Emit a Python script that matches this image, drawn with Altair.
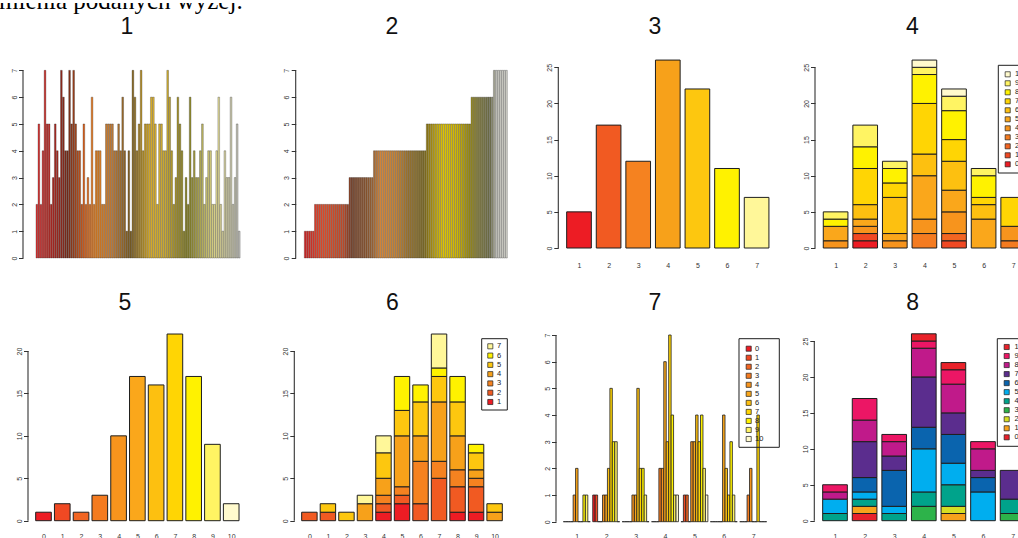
import altair as alt
import pandas as pd

# ------------------------------------------------------------------ data
# panel 1: the 100 observations of X in their original order
x_seq = [2, 5, 2, 4, 7, 5, 5, 2, 3, 5, 4, 3, 7, 6, 4, 4, 7, 5, 7, 5,
         4, 4, 2, 5, 2, 3, 2, 6, 2, 4, 4, 4, 2, 2, 5, 5, 5, 5, 4, 4,
         5, 4, 6, 4, 1, 4, 1, 7, 6, 4, 5, 7, 4, 5, 5, 5, 6, 6, 5, 2,
         5, 5, 4, 4, 7, 6, 4, 2, 3, 6, 5, 4, 1, 3, 2, 6, 3, 4, 3, 3,
         4, 5, 2, 3, 4, 4, 2, 2, 4, 6, 2, 1, 4, 3, 3, 6, 2, 3, 5, 1]
x_levels = [1, 2, 3, 4, 5, 6, 7]
y_levels = [0, 1, 2, 3, 4, 5, 6, 7, 8, 9, 10]
x_totals = [5, 17, 12, 26, 22, 11, 7]
y_totals = [1, 2, 1, 3, 10, 17, 16, 22, 17, 9, 2]
# counts of Y = 0..10 within each level of X
x1_counts = [0, 0, 0, 0, 1, 2, 0, 0, 1, 1, 0]
x2_counts = [1, 1, 0, 0, 1, 1, 2, 5, 3, 3, 0]
x3_counts = [0, 0, 0, 0, 1, 1, 5, 2, 2, 1, 0]
x4_counts = [0, 0, 0, 2, 2, 6, 3, 7, 4, 1, 1]
x5_counts = [0, 1, 1, 0, 3, 3, 4, 3, 4, 2, 1]
x6_counts = [0, 0, 0, 0, 0, 4, 2, 1, 3, 1, 0]
x7_counts = [0, 0, 0, 1, 2, 0, 0, 4, 0, 0, 0]
panel_titles = ["1", "2", "3", "4", "5", "6", "7", "8"]
header_text = "mienia podanych wyżej."
y_ticks_7 = [0, 1, 2, 3, 4, 5, 6, 7]
y_ticks_25 = [0, 5, 10, 15, 20, 25]
y_ticks_20 = [0, 5, 10, 15, 20]

# ------------------------------------------------------------------ styles
SANS = "Liberation Sans"
SERIF = "Liberation Serif"
AX = "#333333"
EDGE = "#1e1e1e"
grad1_idx = [1, 8, 16, 24, 30, 38, 47, 56, 64, 74, 88, 100]
grad1_col = ["#e03030", "#c02a24", "#7a2c1a", "#e0621c", "#f08822", "#c88038", "#806020",
             "#e8b82a", "#d8b434", "#8a8420", "#e8e090", "#c4c4be"]
grad2_idx = [1, 10, 20, 24, 34, 38, 46, 52, 59, 64, 69, 76, 82, 86, 92, 95, 100]
grad2_col = ["#e42a2a", "#ee502a", "#d0502a", "#7e4024", "#aa6c38", "#e4903c",
             "#d48c38", "#a87c2c", "#86701c", "#c4a810", "#f0d400", "#e0c400",
             "#a89610", "#8c8438", "#7a7a54", "#d0d0c8", "#d8d8d0"]
heat7 = ["#ed1c24", "#f15a22", "#f58220", "#f7a11a", "#fdc70f", "#fff200", "#fff799"]
heat11 = ["#ed1c24", "#f04923", "#f26522", "#f47b20", "#f7941d", "#faa71b",
          "#fdc010", "#ffd504", "#fff200", "#fff463", "#fffacd"]
bright11 = ["#e8212b", "#f7a21c", "#d6de23", "#2db34a", "#00a38b", "#00aeef",
            "#0a64ae", "#5b2d8e", "#c01a8a", "#ec1665", "#e9222a"]

R0_H, R1_H, R2_H = 55, 270, 213
COL_W = [255, 265, 260, 238]
HALF = 0.5 / 1.2          # R barplot: width 1, space 0.2
HALF7 = 0.5 / 12          # beside=TRUE: 11 bars + 1 space per group

tables = [x1_counts, x2_counts, x3_counts, x4_counts, x5_counts, x6_counts, x7_counts]


# ------------------------------------------------------------------ helpers
def xscale(W, ref_px, ref_val, ppu):
    return alt.Scale(domain=[ref_val - ref_px / ppu, ref_val + (W - ref_px) / ppu],
                     nice=False, zero=False)


def yscale(H, zero_px, ppu):
    return alt.Scale(domain=[-(H - zero_px) / ppu, zero_px / ppu], nice=False, zero=False)


def y_axis(ticks, axis_px):
    return alt.Axis(values=ticks, offset=-axis_px, domain=False, ticks=True, tickSize=4.5,
                    tickColor=AX, tickWidth=1, labelAngle=270, labelAlign="center",
                    labelBaseline="alphabetic", labelPadding=2.5, labelFontSize=7,
                    labelFont=SANS, labelColor=AX, labelFlush=False, labelOverlap=False,
                    grid=False, title=None, format="d")


def x_axis(values, offset):
    return alt.Axis(values=values, offset=offset, domain=False, ticks=False, tickSize=0,
                    labelPadding=0, labelFontSize=7, labelFont=SANS, labelColor=AX,
                    labelBaseline="middle", labelAngle=0, labelFlush=False,
                    labelOverlap=False, grid=False, title=None, format="d")


def bars(df, xs, ys, xaxis, yaxis, color, hw, clip=False, sw=1.0, edge=EDGE):
    return alt.Chart(df).mark_rect(stroke=edge, strokeWidth=sw, clip=clip).transform_calculate(
        xl=f"datum.xc - {hw}", xr=f"datum.xc + {hw}"
    ).encode(
        x=alt.X("xl:Q", scale=xs, axis=xaxis), x2="xr:Q",
        y=alt.Y("lo:Q", scale=ys, axis=yaxis), y2="hi:Q",
        color=color,
    )


def axis_line(ys, axis_px, top):
    return alt.Chart(pd.DataFrame({"a": [0], "b": [top]})).mark_rule(
        color=AX, strokeWidth=1.1
    ).encode(x=alt.value(axis_px), y=alt.Y("a:Q", scale=ys, axis=None), y2="b:Q")


def title_mark(text, x, y):
    return alt.Chart(pd.DataFrame({"t": [text]})).mark_text(
        font=SANS, fontSize=23, color="#111111", align="center", baseline="alphabetic"
    ).encode(x=alt.value(x), y=alt.value(y), text="t:N")


def legend(labels, colors, box, sq_x, lab_x, y0, y1, clip):
    labs = [str(v) for v in labels]
    n = len(labs)
    df = pd.DataFrame({"k": list(range(n)), "lab": labs})
    ys = alt.Scale(type="point", domain=list(range(n)), range=[y0, y1], padding=0)
    boxl = alt.Chart(pd.DataFrame({"a": [0]})).mark_rect(
        fill="white", fillOpacity=0, stroke=EDGE, strokeWidth=1, clip=clip
    ).encode(x=alt.value(box[0]), x2=alt.value(box[1]), y=alt.value(box[2]), y2=alt.value(box[3]))
    sq = alt.Chart(df).mark_square(size=26, opacity=1, stroke=EDGE, strokeWidth=0.7, clip=clip).encode(
        x=alt.value(sq_x), y=alt.Y("k:O", scale=ys, axis=None),
        color=alt.Color("lab:N", scale=alt.Scale(domain=labs, range=colors), legend=None))
    tx = alt.Chart(df).mark_text(font=SANS, fontSize=7.5, color="#222222", align="left",
                                 baseline="middle", clip=clip).encode(
        x=alt.value(lab_x), y=alt.Y("k:O", scale=ys, axis=None), text="lab:N")
    return [boxl, sq, tx]


def finish(layers, W, H):
    return alt.layer(*layers).resolve_scale(y="independent", color="independent").properties(
        width=W, height=H)


# ------------------------------------------------------------------ tables
idx = list(range(1, len(x_seq) + 1))
seq_df = pd.DataFrame({"xc": idx, "idx": idx, "lo": [0] * len(x_seq), "hi": x_seq})
sorted_df = pd.DataFrame({"xc": idx, "idx": idx, "lo": [0] * len(x_seq), "hi": sorted(x_seq)})
xtot_df = pd.DataFrame({"xc": x_levels, "lo": [0] * 7, "hi": x_totals, "X": [str(v) for v in x_levels]})
ytot_df = pd.DataFrame({"xc": y_levels, "lo": [0] * 11, "hi": y_totals, "Y": [str(v) for v in y_levels]})

rows_xy = []
for xv, counts in zip(x_levels, tables):
    cum = 0
    for yv, c in zip(y_levels, counts):
        if c > 0:
            rows_xy.append({"xc": xv, "Y": str(yv), "lo": cum, "hi": cum + c})
            cum += c
stack_x_df = pd.DataFrame(rows_xy)

rows_yx = []
for j, yv in enumerate(y_levels):
    cum = 0
    for xv, counts in zip(x_levels, tables):
        c = counts[j]
        if c > 0:
            rows_yx.append({"xc": yv, "X": str(xv), "lo": cum, "hi": cum + c})
            cum += c
stack_y_df = pd.DataFrame(rows_yx)

rows_b = []
for xv, counts in zip(x_levels, tables):
    for yv, c in zip(y_levels, counts):
        rows_b.append({"xc": xv + (yv - 5) / 12, "Y": str(yv), "lo": 0, "hi": c})
beside_df = pd.DataFrame(rows_b)


def ycol11(rng):
    return alt.Color("Y:N", scale=alt.Scale(domain=[str(v) for v in y_levels], range=rng), legend=None)


xcol7 = alt.Color("X:N", scale=alt.Scale(domain=[str(v) for v in x_levels], range=heat7), legend=None)

# ------------------------------------------------------------------ panels
# 1
ys1 = yscale(R1_H, 200, 26.81)
p1 = finish([
    bars(seq_df, xscale(COL_W[0], 36.85, 1, 2.044), ys1, None, y_axis(y_ticks_7, 23),
         alt.Color("idx:Q", scale=alt.Scale(domain=grad1_idx, range=grad1_col, interpolate="rgb"), legend=None),
         HALF, sw=0.3, edge="#202020"),
    axis_line(ys1, 23, 7),
    title_mark(panel_titles[0], 127, -23.8),
], COL_W[0], R1_H)

# 2
p2 = finish([
    bars(sorted_df, xscale(COL_W[1], 50.15, 1, 2.0334), ys1, None, y_axis(y_ticks_7, 40.7),
         alt.Color("idx:Q", scale=alt.Scale(domain=grad2_idx, range=grad2_col, interpolate="rgb"), legend=None),
         HALF, sw=0.3, edge="#202020"),
    axis_line(ys1, 40.7, 7),
    title_mark(panel_titles[1], 137, -23.8),
], COL_W[1], R1_H)

# 3
ys3 = yscale(R1_H, 190, 7.228)
p3 = finish([
    bars(xtot_df, xscale(COL_W[2], 59.0, 1, 29.6), ys3, x_axis(x_levels, -63), y_axis(y_ticks_25, 38.3),
         xcol7, HALF),
    axis_line(ys3, 38.3, 25),
    title_mark(panel_titles[2], 135, -23.8),
], COL_W[2], R1_H)

# 4
p4 = finish([
    bars(stack_x_df, xscale(COL_W[3], 55.6, 1, 29.6), ys3, x_axis(x_levels, -63), y_axis(y_ticks_25, 35),
         ycol11(heat11), HALF, clip=True),
    axis_line(ys3, 35, 25),
    title_mark(panel_titles[3], 132.3, -23.8),
] + legend(y_levels[::-1], heat11[::-1], (218.3, 275, 7.3, 115), 227.7, 235, 16.3, 106.3, True),
    COL_W[3], R1_H)

# 5
ys5 = yscale(R2_H, 192.7, 8.485)
p5 = finish([
    bars(ytot_df, xscale(COL_W[0], 43.5, 0, 18.77), ys5, x_axis(y_levels, -4.5), y_axis(y_ticks_20, 28),
         ycol11(heat11), HALF),
    axis_line(ys5, 28, 20),
    title_mark(panel_titles[4], 125, -18.5),
], COL_W[0], R2_H)

# 6
p6 = finish([
    bars(stack_y_df, xscale(COL_W[1], 54.4, 0, 18.52), ys5, x_axis(y_levels, -4.5), y_axis(y_ticks_20, 39.3),
         xcol7, HALF),
    axis_line(ys5, 39.3, 20),
    title_mark(panel_titles[5], 137.3, -18.5),
] + legend(x_levels[::-1], heat7[::-1], (226.7, 252.3, 10.7, 82), 235.3, 242, 18.3, 74, False),
    COL_W[1], R2_H)

# 7
ys7 = yscale(R2_H, 193.7, 26.67)
p7 = finish([
    bars(beside_df, xscale(COL_W[2], 56.8, 1, 29.4), ys7, x_axis(x_levels, -4.5), y_axis(y_ticks_7, 36),
         ycol11(heat11), HALF7, sw=0.8),
    axis_line(ys7, 36, 7),
    title_mark(panel_titles[6], 135, -18.5),
] + legend(y_levels, heat11, (219, 259.3, 10.7, 119.3), 228.7, 235, 20.7, 111, False),
    COL_W[2], R2_H)

# 8
ys8 = yscale(R2_H, 192.7, 7.188)
p8 = finish([
    bars(stack_x_df, xscale(COL_W[3], 55.0, 1, 29.6), ys8, x_axis(x_levels, -4.5), y_axis(y_ticks_25, 34.3),
         ycol11(bright11), HALF, clip=True),
    axis_line(ys8, 34.3, 25),
    title_mark(panel_titles[7], 132.7, -18.5),
] + legend(y_levels[::-1], bright11[::-1], (217.3, 275, 10.7, 118.3), 226.7, 234.5, 19, 109.3, True),
    COL_W[3], R2_H)

# header strip (text of the surrounding document, cut at the top)
header = alt.Chart(pd.DataFrame({"t": [header_text]})).mark_text(
    font=SERIF, fontSize=25, align="left", baseline="alphabetic", color="#000000", clip=True
).encode(x=alt.value(-1), y=alt.value(6), text="t:N").properties(width=COL_W[0], height=R0_H)


def blank(W):
    return alt.Chart(pd.DataFrame({"a": [0]})).mark_point(opacity=0).encode(
        x=alt.value(0), y=alt.value(0)).properties(width=W, height=R0_H)


chart = alt.concat(
    header, blank(COL_W[1]), blank(COL_W[2]), blank(COL_W[3]),
    p1, p2, p3, p4, p5, p6, p7, p8,
    columns=4, spacing=0, bounds="flush",
).properties(padding=0).configure_view(stroke=None)

chart.save("out.html", embed_options={"renderer": "svg", "actions": False})
